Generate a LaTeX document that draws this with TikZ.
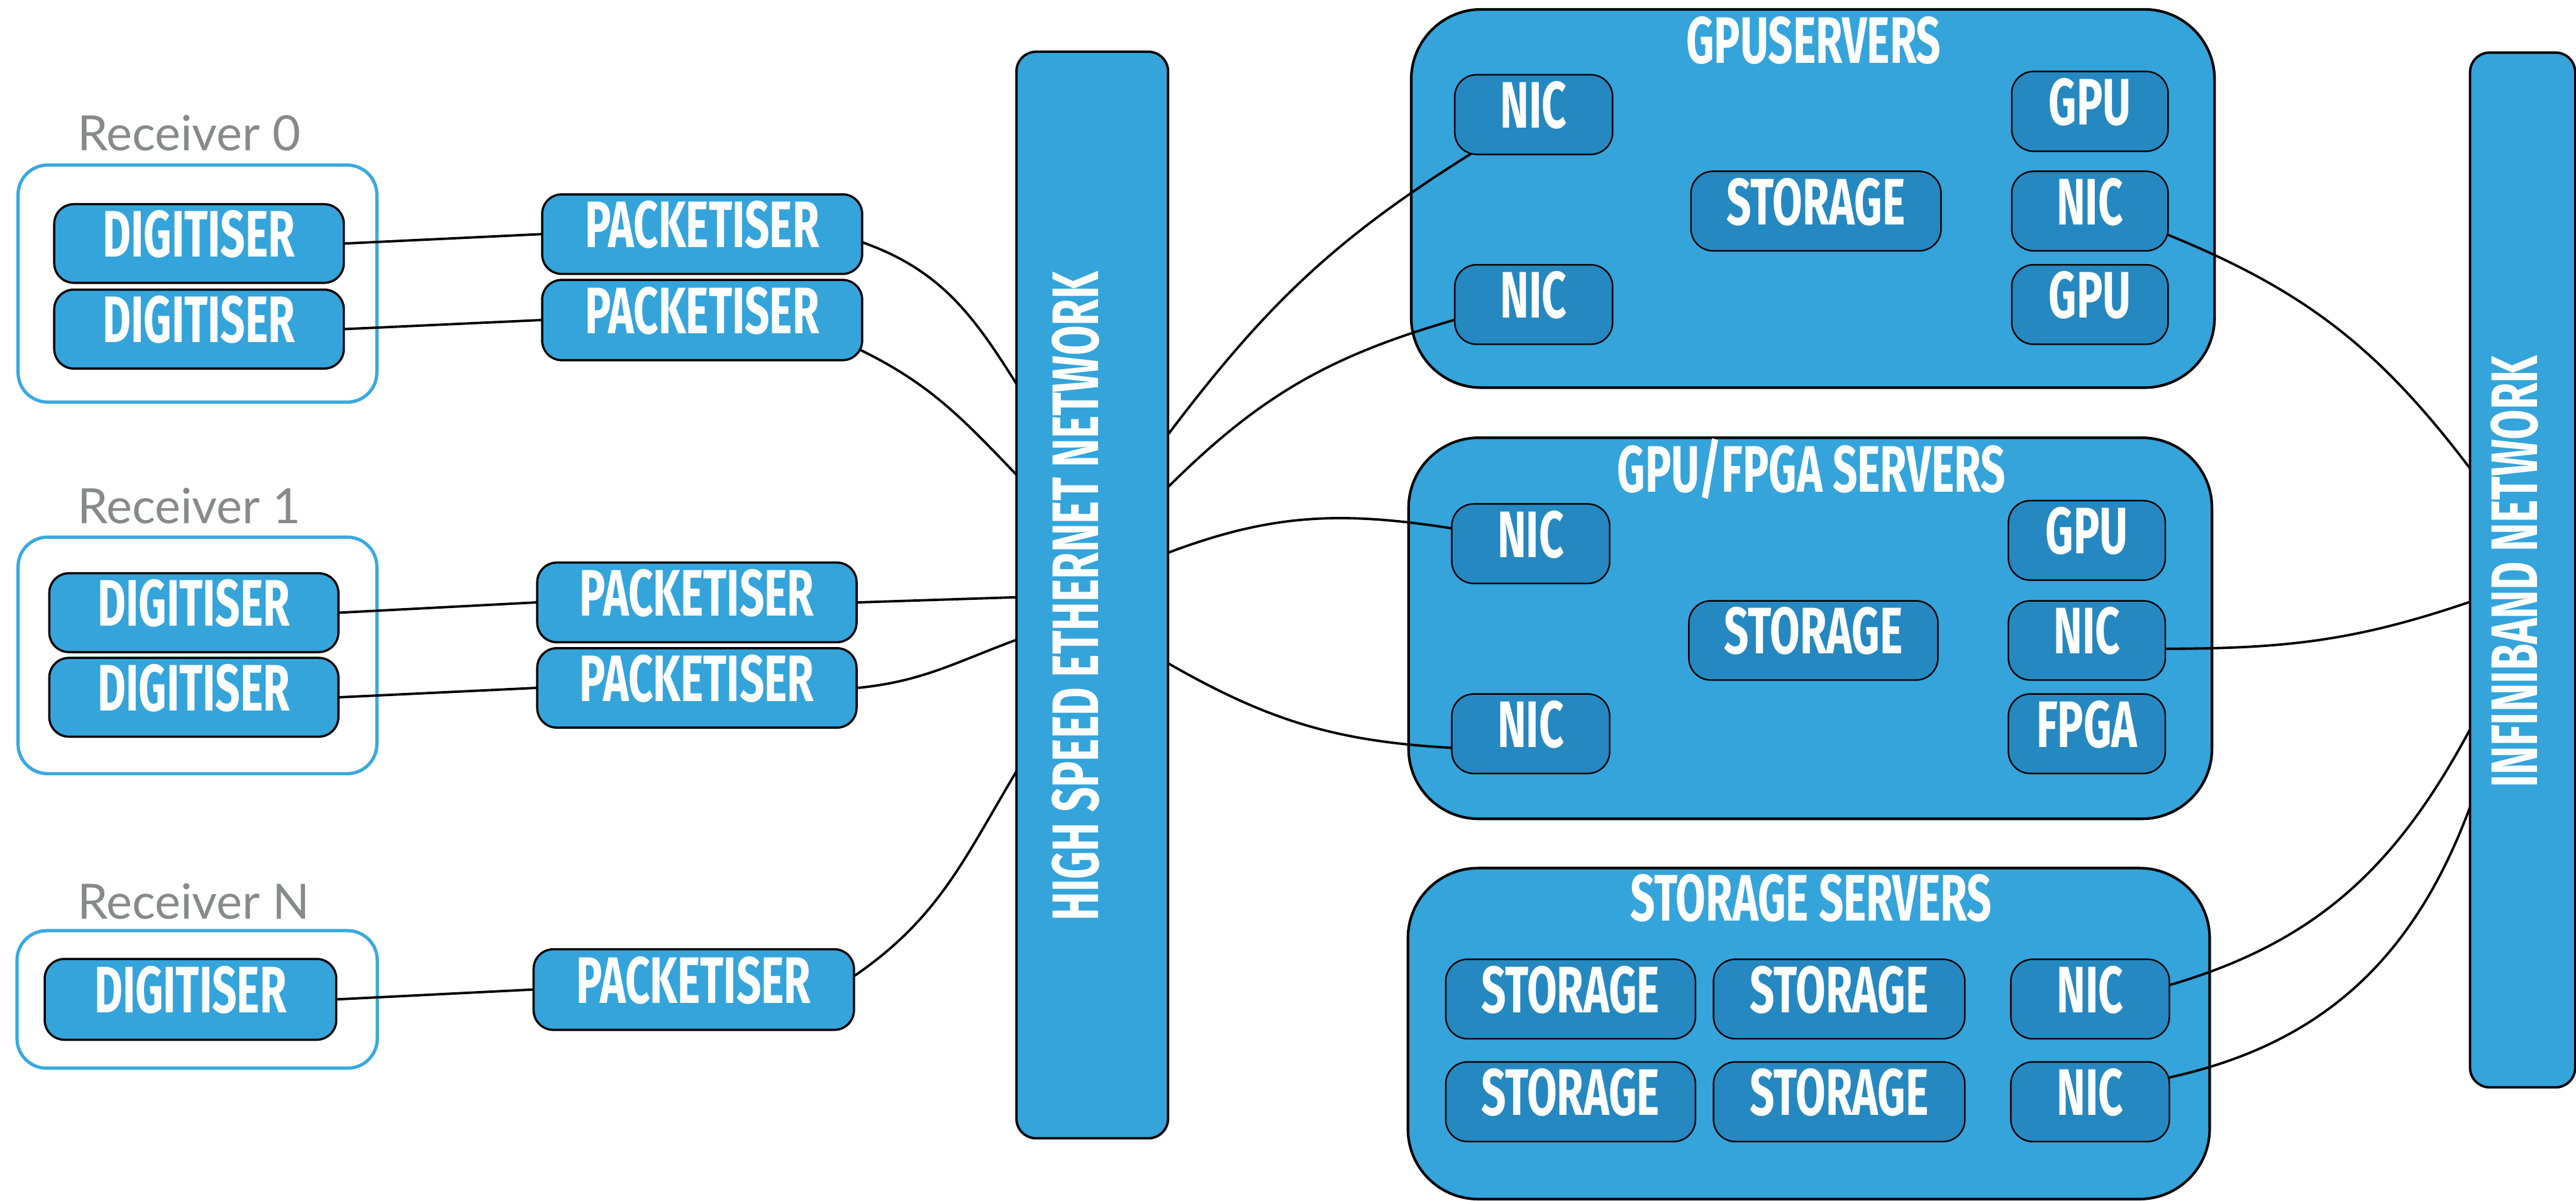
\documentclass[tikz,border=0pt]{standalone}
\usepackage{fontspec}
\newfontfamily\dinfont[FakeStretch=0.66]{Fira Sans}
\newfontfamily\recfont{Lato}
\definecolor{boxblue}{HTML}{34A4DB}
\definecolor{inblue}{HTML}{2588C0}
\definecolor{recblue}{HTML}{3AA9DE}
\definecolor{recgray}{HTML}{878A8A}
\pgfdeclarelayer{back}
\pgfdeclarelayer{wires}
\pgfsetlayers{back,wires,main}
\begin{document}
\begin{tikzpicture}[x=0.75pt,y=-0.75pt,
  sz/.style 2 args={minimum width=#1*0.75pt,minimum height=#2*0.75pt},
  lbl/.style={text=white,font=\dinfont\bfseries\fontsize{30pt}{30pt}\selectfont},
  box/.style={lbl,draw=black,line width=1pt,fill=boxblue,rounded corners=9pt,inner sep=0pt,text height=21pt,text depth=8.7pt},
  inbox/.style={box,fill=inblue,line width=0.7pt,rounded corners=10pt},
  server/.style={draw=black,line width=1.2pt,fill=boxblue,rounded corners=32pt},
  recv/.style={draw=recblue,line width=1.5pt,rounded corners=13.5pt},
  bar/.style={draw=black,line width=1.1pt,fill=boxblue,rounded corners=9pt},
  title/.style={lbl,inner sep=0pt,anchor=base},
  rlabel/.style={text=recgray,font=\recfont\fontsize{22.2pt}{22.2pt}\selectfont,inner sep=0pt,anchor=base west},
  wire/.style={line width=1.1pt,shorten <=-2pt,shorten >=-2pt}]
  \useasboundingbox (0,0) rectangle (1568,731);

  \begin{pgfonlayer}{back}
    \node[recv,sz={218.4}{144.3}] (rc0) at (120.2,172.65) {};
    \node[recv,sz={218.4}{144}] (rc1) at (120.2,399) {};
    \node[recv,sz={219.3}{83.7}] (rcN) at (120,608.45) {};
    \node[server,sz={489}{230.3}] (gpusrv) at (1103.5,120.85) {};
    \node[server,sz={489}{232}] (fpgasrv) at (1101.9,382.5) {};
    \node[server,sz={488}{201.5}] (storsrv) at (1101,629.25) {};
  \end{pgfonlayer}

  \node[rlabel] (lbl0) at (47,91.5) {Receiver 0};
  \node[rlabel] (lbl1) at (47,318.5) {Receiver 1};
  \node[rlabel] (lblN) at (47,559.5) {Receiver N};

  \node[box,sz={176.3}{47.9}] (d0a) at (121.15,148.25) {DIGITISER};
  \node[box,sz={176.3}{48.1}] (d0b) at (121.15,200.35) {DIGITISER};
  \node[box,sz={176}{48}] (d1a) at (118,373) {DIGITISER};
  \node[box,sz={176}{48}] (d1b) at (118,424.5) {DIGITISER};
  \node[box,sz={177.5}{49.2}] (dN) at (115.95,608.4) {DIGITISER};

  \node[box,sz={194.8}{48.5}] (p0a) at (427.4,142.55) {PACKETISER};
  \node[box,sz={194.8}{48.9}] (p0b) at (427.4,194.85) {PACKETISER};
  \node[box,sz={194.4}{48.5}] (p1a) at (424.2,366.75) {PACKETISER};
  \node[box,sz={194.4}{48.4}] (p1b) at (424.2,418.8) {PACKETISER};
  \node[box,sz={195}{49.1}] (pN) at (422.3,602.45) {PACKETISER};

  \node[bar,sz={92.3}{661.5}] (eth) at (664.85,362.25) {};
  \node[title,rotate=90] (ethtxt) at (668.6,363) {HIGH SPEED ETHERNET NETWORK};
  \node[bar,sz={64}{630}] (ib) at (1535.5,347) {};
  \node[title,rotate=90] (ibtxt) at (1544.5,348) {INFINIBAND NETWORK};

  \node[title] (gputtl) at (1104,38.5) {GPUSERVERS};
  \node[inbox,sz={96.1}{48.5}] (gn1) at (933.55,69.75) {NIC};
  \node[inbox,sz={95.2}{48.6}] (gg1) at (1272.1,67.8) {GPU};
  \node[inbox,sz={152.2}{48.4}] (gs) at (1105.4,128.5) {STORAGE};
  \node[inbox,sz={95.2}{48.4}] (gn3) at (1272.1,128.5) {NIC};
  \node[inbox,sz={96.1}{48.4}] (gn2) at (933.55,185.4) {NIC};
  \node[inbox,sz={95.2}{48.4}] (gg2) at (1272.1,185.4) {GPU};

  \node[title] (fpgattl) at (1102.6,299.5) {GPU/FPGA SERVERS};
  \node[inbox,sz={96.1}{48.4}] (fn1) at (931.75,331) {NIC};
  \node[inbox,sz={95.5}{48.4}] (fg) at (1270.25,329) {GPU};
  \node[inbox,sz={151.6}{48.2}] (fs) at (1103.8,389.9) {STORAGE};
  \node[inbox,sz={95.5}{48.2}] (fn3) at (1270.25,389.9) {NIC};
  \node[inbox,sz={96.1}{48.4}] (fn2) at (931.75,446.7) {NIC};
  \node[inbox,sz={95.5}{48.4}] (ff) at (1270.25,446.7) {FPGA};

  \node[title] (storttl) at (1102.3,560.5) {STORAGE SERVERS};
  \node[inbox,sz={152}{48.4}] (ss1) at (956,608.2) {STORAGE};
  \node[inbox,sz={153}{48.4}] (ss2) at (1119.5,608.2) {STORAGE};
  \node[inbox,sz={96.5}{48.4}] (sn1) at (1272.25,608.2) {NIC};
  \node[inbox,sz={152}{48.5}] (ss3) at (956,670.75) {STORAGE};
  \node[inbox,sz={153}{48.5}] (ss4) at (1119.5,670.75) {STORAGE};
  \node[inbox,sz={96.5}{48.5}] (sn2) at (1272.25,670.75) {NIC};

  \coordinate (e0) at (618.7,233.7);
  \coordinate (e1) at (618.7,289);
  \coordinate (e2) at (618.7,363.6);
  \coordinate (e3) at (618.7,389.5);
  \coordinate (e4) at (618.7,469.6);
  \coordinate (e5) at (711,264.5);
  \coordinate (e6) at (711,296.5);
  \coordinate (e7) at (711,336.5);
  \coordinate (e8) at (711,403.8);
  \coordinate (i0) at (1503.5,285.2);
  \coordinate (i1) at (1503.5,366.4);
  \coordinate (i2) at (1503.5,444);
  \coordinate (i3) at (1503.5,491.3);

  \begin{pgfonlayer}{wires}
    \draw[wire] (d0a.east) -- (p0a.west);
    \draw[wire] (d0b.east) -- (p0b.west);
    \draw[wire] (d1a.east) -- (p1a.west);
    \draw[wire] (d1b.east) -- (p1b.west);
    \draw[wire] (dN.east) -- (pN.west);
    \draw[wire] (p0a.-3) to[out=-19,in=122] (e0);
    \draw[wire] (p0b.-11) to[out=-26,in=134] (e1);
    \draw[wire] (p1a.east) -- (e2);
    \draw[wire] (p1b.east) to[out=5,in=-160] (e3);
    \draw[wire] (pN.5) to[out=34,in=-121] (e4);
    \draw[wire] (e5) to[out=53,in=-148] (gn1.-148);
    \draw[wire] (e6) to[out=45,in=-164] (gn2.-169);
    \draw[wire] (e7) to[out=21,in=171] (fn1.169);
    \draw[wire] (e8) to[out=-30,in=177] (fn2.-170);
    \draw[wire] (gn3.-17) to[out=-22,in=127] (i0);
    \draw[wire] (fn3.-6) to[out=0,in=-161] (i1);
    \draw[wire] (sn1.10) to[out=16,in=-118] (i2);
    \draw[wire] (sn2.17) to[out=12,in=-110] (i3);
  \end{pgfonlayer}
\end{tikzpicture}
\end{document}
